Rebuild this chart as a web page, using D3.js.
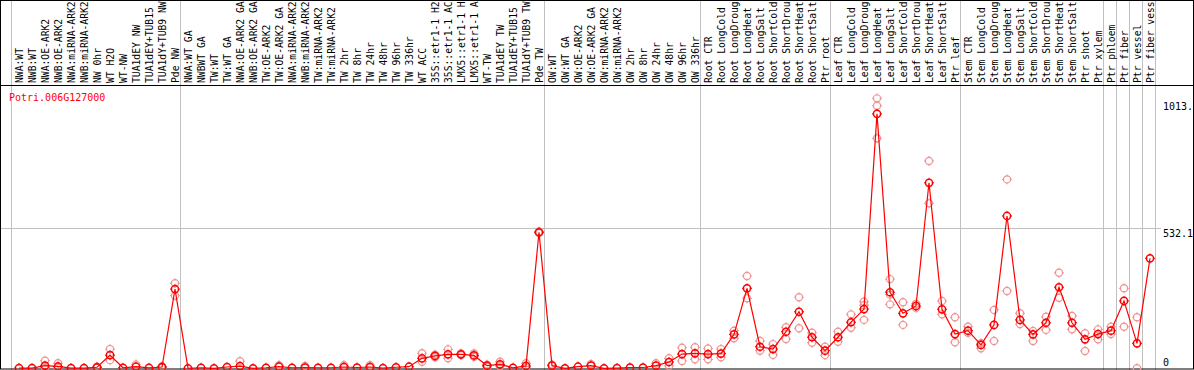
<!DOCTYPE html>
<html><head><meta charset="utf-8">
<script src="https://cdn.jsdelivr.net/npm/d3@7"></script>
<style>html,body{margin:0;padding:0;background:#fff;}svg{display:block;}</style>
</head><body><div id="c"></div>
<script>
const title = "Potri.006G127000";
const labels = [
 "NWA:WT","NWB:WT","NWA:OE-ARK2","NWB:OE-ARK2","NWA:miRNA-ARK2","NWB:miRNA-ARK2","NW 0hr","WT H2O","WT-NW","TUA1dEY NW","TUA1dEY+TUB15 NW","TUA1dY+TUB9 NW","Pde NW",
 "NWA:WT GA","NWBWT GA","TW:WT","TW:WT GA","NWA:OE-ARK2 GA","NWB:OE-ARK2 GA","TW:OE-ARK2","TW:OE-ARK2 GA","NWA:miRNA-ARK2","NWB:miRNA-ARK2","TW:miRNA-ARK2","TW:miRNA-ARK2","TW 2hr","TW 8hr","TW 24hr","TW 48hr","TW 96hr","TW 336hr","WT ACC","35S::etr1-1 H2O","35S::etr1-1 ACC","LMX5::etr1-1 H2O","LMX5::etr1-1 ACC","WT-TW","TUA1dEY TW","TUA1dEY+TUB15 TW","TUA1dY+TUB9 TW","Pde TW",
 "OW:WT","OW:WT GA","OW:OE-ARK2","OW:OE-ARK2 GA","OW:miRNA-ARK2","OW:miRNA-ARK2","OW 2hr","OW 8hr","OW 24hr","OW 48hr","OW 96hr","OW 336hr",
 "Root CTR","Root LongCold","Root LongDrought","Root LongHeat","Root LongSalt","Root ShortCold","Root ShortDrought","Root ShortHeat","Root ShortSalt","Ptr root",
 "Leaf CTR","Leaf LongCold","Leaf LongDrought","Leaf LongHeat","Leaf LongSalt","Leaf ShortCold","Leaf ShortDrought","Leaf ShortHeat","Leaf ShortSalt","Ptr leaf",
 "Stem CTR","Stem LongCold","Stem LongDrought","Stem LongHeat","Stem LongSalt","Stem ShortCold","Stem ShortDrought","Stem ShortHeat","Stem ShortSalt","Ptr shoot","Ptr xylem",
 "Ptr phloem","Ptr fiber","Ptr vessel","Ptr fiber vessel"
];
const groupSizes = [13,28,12,10,10,11,1,1,1,1];
const means = [
 1,1,10,7,1,1,4,50,2,6,
 2,5,301,0,2,0,5,8,0,2,
 6,2,3,2,2,5,3,5,1,4,
 6,38,47,53,53,49,10,15,2,9,
 517,10,0,6,10,0,1,3,3,10,
 24,54,57,54,56,129,304,82,73,139,
 215,118,67,118,175,225,967,289,209,237,
 705,224,130,143,89,165,579,184,129,173,
 308,173,110,130,143,256,95,418
];
const N = null;
const repA = [
 N,N,29,19,N,N,6,73,N,15,
 N,8,323,N,N,N,N,27,N,N,
 12,N,9,N,N,12,N,12,N,N,
 N,57,52,72,56,56,14,25,N,19,
 520,14,N,N,16,N,N,N,N,19,
 38,78,80,75,73,143,351,104,92,156,
 270,135,82,139,205,253,1026,339,251,245,
 788,256,194,158,95,222,718,209,142,196,
 363,199,133,148,158,304,194,N
];
const repB = [
 N,N,3,2,N,N,2,31,N,N,
 N,2,276,N,N,N,N,N,N,N,
 N,N,N,N,N,N,N,N,N,N,
 N,25,42,38,50,44,6,8,N,3,
 514,N,N,N,N,N,N,N,N,N,
 9,28,34,34,42,114,266,67,51,111,
 152,97,50,101,154,184,874,243,165,230,
 627,205,99,135,76,104,294,168,104,146,
 268,148,66,110,130,158,0,N
];
const repC = [];
repC[65] = 240; repC[66] = 998; repC[67] = 280;
const yTicks = [0, 532.1, 1013];
const yTickLabels = ["0", "532.1", "1013."];
const MAX_LABEL_CHARS = 14;

const W = 1194, H = 370;
const FONT = "'DejaVu Sans Mono', 'Liberation Mono', monospace";
const svg = d3.select("#c").append("svg").attr("width", W).attr("height", H);
svg.append("rect").attr("width", W).attr("height", H).attr("fill", "#fff");

const x = d3.scaleBand().domain(d3.range(labels.length)).range([11, 1155]);
const y = d3.scaleLinear().domain([0, 1064.2]).range([368.3, 88.3]);
const px = i => x(i) + x.bandwidth() / 2 + 1.5;

// vertical group separators
let cum = 0; const bounds = [0];
groupSizes.forEach(s => { cum += s; bounds.push(cum); });
const bx = b => Math.round(b < labels.length ? x(b) : x.range()[1]) + 0.5;
svg.append("g").selectAll("line").data(bounds).join("line")
  .attr("x1", bx).attr("x2", bx).attr("y1", 0).attr("y2", H)
  .attr("stroke", "#c0c0c0").attr("stroke-width", 1);

// horizontal grid at middle tick
svg.append("line").attr("x1", 0).attr("x2", 1161)
  .attr("y1", Math.round(y(yTicks[1])) + 0.5).attr("y2", Math.round(y(yTicks[1])) + 0.5)
  .attr("stroke", "#c0c0c0");

// frame
svg.append("rect").attr("x", 0.5).attr("y", 0.5).attr("width", W - 1).attr("height", H - 1.5)
  .attr("fill", "none").attr("stroke", "#000");
svg.append("line").attr("x1", 0).attr("x2", W).attr("y1", 85.5).attr("y2", 85.5).attr("stroke", "#000");

// column labels (truncated to the width of the header band, as in the original)
svg.append("g").selectAll("text").data(labels).join("text")
  .attr("transform", (d, i) => `translate(${px(i) + 3.5},83) rotate(-90)`)
  .attr("font-family", FONT).attr("font-size", 9.7).attr("fill", "#000")
  .text(d => d.slice(0, MAX_LABEL_CHARS).trimEnd());

// title
svg.append("text").attr("x", 9).attr("y", 101).attr("font-family", FONT)
  .attr("font-size", 10).attr("fill", "#ff0000").text(title);

// y tick labels
svg.append("g").selectAll("text").data(yTicks).join("text")
  .attr("x", 1163)
  .attr("y", (d, i) => i === 0 ? y(d) - 2.5 : y(d) + 8.5)
  .attr("font-family", FONT).attr("font-size", 10).attr("fill", "#000")
  .text((d, i) => yTickLabels[i]);

function marker(g, cx, cy, color, sw) {
  g.append("circle").attr("cx", cx).attr("cy", cy).attr("r", 3.6)
    .attr("fill", "none").attr("stroke", color).attr("stroke-width", sw);
  [[0, -1], [0, 1], [-1, 0], [1, 0]].forEach(([dx, dy]) => {
    g.append("line").attr("x1", cx + dx * 2.8).attr("y1", cy + dy * 2.8)
      .attr("x2", cx + dx * 5).attr("y2", cy + dy * 5)
      .attr("stroke", color).attr("stroke-width", 1);
  });
}

// replicates
const gr = svg.append("g");
[repA, repB, repC].forEach(arr => {
  for (let i = 0; i < labels.length; i++) {
    const v = arr[i];
    if (v !== null && v !== undefined) marker(gr, px(i), y(v), "#ee9494", 1.2);
  }
});

// mean line
svg.append("path").datum(means)
  .attr("d", d3.line().x((d, i) => px(i)).y(d => y(d)))
  .attr("fill", "none").attr("stroke", "#ff0000").attr("stroke-width", 1.2);

// mean markers
const gm = svg.append("g");
means.forEach((v, i) => marker(gm, px(i), y(v), "#ff0000", 1.5));
</script>
</body></html>
